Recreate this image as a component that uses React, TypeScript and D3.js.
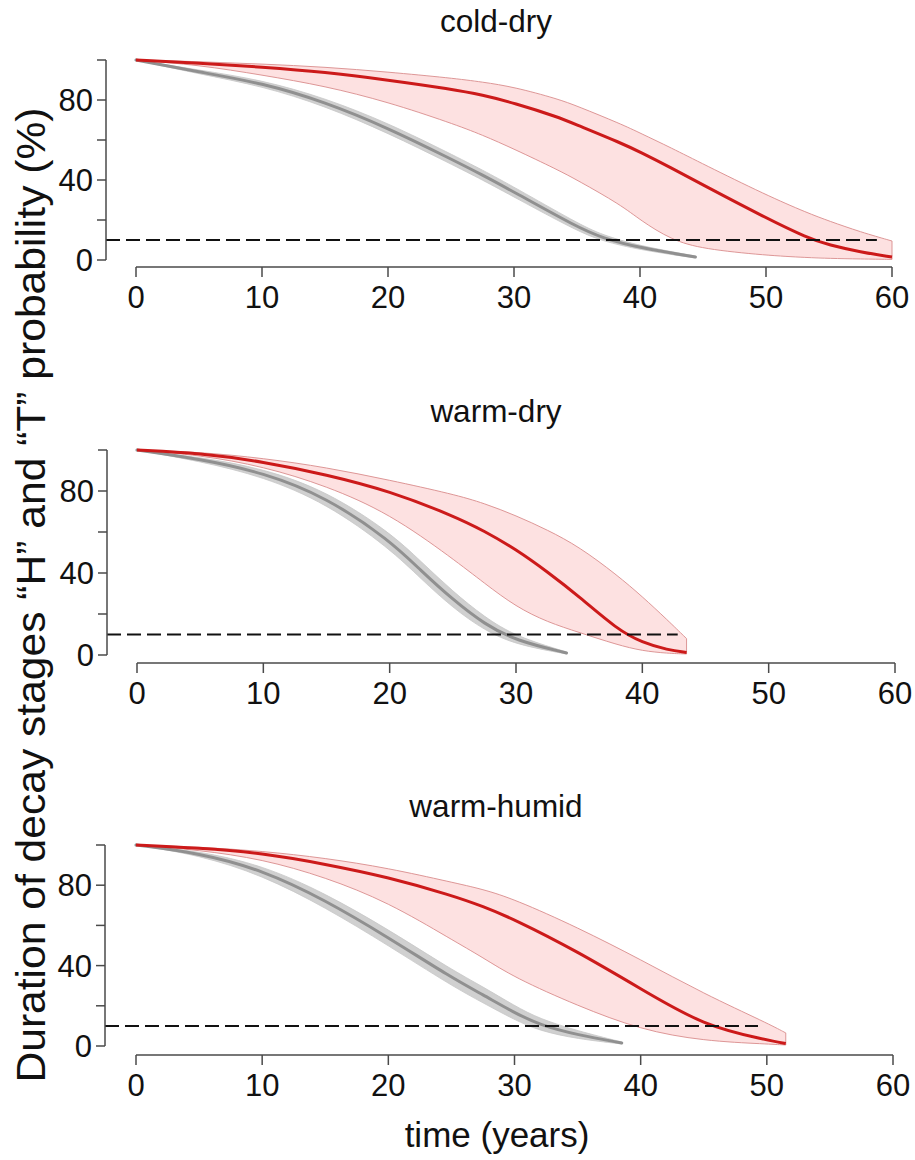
import React from "react";
import * as d3 from "d3";

// ---------- data ----------
const panelTitles = ["cold-dry", "warm-dry", "warm-humid"];
const xTickValues = [0, 10, 20, 30, 40, 50, 60];
const yTickValues = [0, 20, 40, 60, 80, 100];
const yTickLabels = ["0", "", "40", "", "80", ""];
const thresholdValue = 10;
const dashEnds = [58.8, 42.8, 49.3];

// cold-dry
const coldDryRedT = [0, 5, 10, 15, 20, 25, 27.5, 30, 33.5, 35, 38.5, 40, 42.5, 45, 50, 53.3, 55, 57.5, 60];
const coldDryRedMean = [100, 98.5, 96.5, 94, 90, 85.5, 82.5, 78.5, 71.5, 67.5, 58.5, 54, 46, 37.5, 21, 11, 7.5, 4, 1.5];
const coldDryRedUpper = [100, 99.2, 98, 96.5, 94, 91, 89, 86.5, 80.5, 77, 68, 63.5, 56, 48, 32.5, 23.5, 19.5, 14, 9.5];
const coldDryRedLower = [100, 97.5, 92.5, 87, 79, 68.5, 62.5, 55.5, 45, 40, 27.5, 20, 10, 5.5, 2.3, 1.2, 0.8, 0.5, 0.3];
const coldDryGrayT = [0, 5, 10, 15, 20, 25, 27.5, 30, 35, 37, 40, 44.4];
const coldDryGrayMean = [100, 94, 88.5, 79, 66, 50.5, 42.5, 34, 16.5, 11, 6, 1.5];
const coldDryGrayUpper = [100, 95, 90, 81, 68.5, 53, 45, 36.5, 18.5, 12.5, 7, 2];
const coldDryGrayLower = [100, 93, 87, 77, 63.5, 48, 40, 31.5, 14.5, 9.5, 5, 1];

// warm-dry
const warmDryRedT = [0, 5, 10, 15, 20, 25, 27.5, 30, 32.5, 35, 38, 40, 42, 43.5];
const warmDryRedMean = [100, 98.5, 94.3, 88, 80, 68, 60.5, 51.5, 40.5, 28.5, 12.5, 6, 2.5, 1.2];
const warmDryRedUpper = [100, 99, 96, 91.5, 85.3, 78.5, 74, 68, 61, 52.8, 39, 28.5, 17, 8];
const warmDryRedLower = [100, 97.5, 92, 82.5, 69, 47, 35, 23.5, 16, 11, 5, 2, 0.8, 0.5];
const warmDryGrayT = [0, 5, 10, 15, 20, 22.5, 25, 27.5, 30, 34];
const warmDryGrayMean = [100, 95.6, 89, 77, 56, 41, 27, 15, 7, 1];
const warmDryGrayUpper = [100, 96.5, 91, 80, 60, 45.5, 31, 18.5, 9, 1.5];
const warmDryGrayLower = [100, 94.5, 87, 74, 52, 37, 23, 12, 5, 0.5];

// warm-humid
const warmHumidRedT = [0, 5, 10, 15, 20, 25, 27.5, 30, 35, 40, 45, 50, 51.5];
const warmHumidRedMean = [100, 98.5, 96, 90.5, 84, 75, 69.5, 63, 47, 28.5, 10, 3, 1.2];
const warmHumidRedUpper = [100, 99, 97, 93.5, 88.5, 81.5, 78, 73, 59, 43, 26, 11.5, 6.5];
const warmHumidRedLower = [100, 97.5, 93, 84, 71.5, 53, 44, 34, 20, 8, 2.5, 1, 0.5];
const warmHumidGrayT = [0, 5, 10, 15, 20, 25, 27.5, 30, 32, 35, 38.5];
const warmHumidGrayMean = [100, 96, 87.6, 72.6, 54, 34, 25.5, 16.5, 10.5, 5.5, 1.5];
const warmHumidGrayUpper = [100, 97, 90, 76, 58, 38, 29.5, 20, 13.5, 7.5, 2];
const warmHumidGrayLower = [100, 95, 85, 69, 50, 30, 21.5, 13, 7.5, 3.5, 1];

const panelsData = [
  { redT: coldDryRedT, redMean: coldDryRedMean, redUpper: coldDryRedUpper, redLower: coldDryRedLower,
    grayT: coldDryGrayT, grayMean: coldDryGrayMean, grayUpper: coldDryGrayUpper, grayLower: coldDryGrayLower },
  { redT: warmDryRedT, redMean: warmDryRedMean, redUpper: warmDryRedUpper, redLower: warmDryRedLower,
    grayT: warmDryGrayT, grayMean: warmDryGrayMean, grayUpper: warmDryGrayUpper, grayLower: warmDryGrayLower },
  { redT: warmHumidRedT, redMean: warmHumidRedMean, redUpper: warmHumidRedUpper, redLower: warmHumidRedLower,
    grayT: warmHumidGrayT, grayMean: warmHumidGrayMean, grayUpper: warmHumidGrayUpper, grayLower: warmHumidGrayLower },
];

// ---------- layout ----------
const W = 915;
const H = 1160;
const layouts = [
  { x0: 136, x1: 892, yTop: 60, yBot: 260, axisX: 106, axisY: 267, titleY: 32 },
  { x0: 137, x1: 895, yTop: 450, yBot: 655, axisX: 107, axisY: 663, titleY: 422 },
  { x0: 136, x1: 893, yTop: 845, yBot: 1046, axisX: 105, axisY: 1055, titleY: 817 },
];
const FONT = "'Liberation Sans', Arial, Helvetica, sans-serif";
const AXIS = "#4a4a4a";

function Panel({ i }: { i: number }) {
  const L = layouts[i];
  const D = panelsData[i];
  const x = d3.scaleLinear().domain([0, 60]).range([L.x0, L.x1]);
  const y = d3.scaleLinear().domain([0, 100]).range([L.yBot, L.yTop]);
  const curve = d3.curveBasis;

  const band = (t: number[], up: number[], lo: number[]) =>
    d3.area<number>().x((_, k) => x(t[k])).y0((_, k) => y(lo[k])).y1((_, k) => y(up[k])).curve(curve)(t) || "";
  const line = (t: number[], v: number[]) =>
    d3.line<number>().x((_, k) => x(t[k])).y((_, k) => y(v[k])).curve(curve)(t) || "";

  const lastT = D.redT[D.redT.length - 1];
  const lastUp = D.redUpper[D.redUpper.length - 1];
  const lastLo = D.redLower[D.redLower.length - 1];
  const bandStroke = "#d98c8c";

  return (
    <g>
      <text x={496} y={L.titleY} textAnchor="middle" fontSize={31.5} fontFamily={FONT} fill="#111">
        {panelTitles[i]}
      </text>

      {/* red band */}
      <path d={band(D.redT, D.redUpper, D.redLower)} fill="#fde1e1" stroke="none" />
      <path d={line(D.redT, D.redUpper)} fill="none" stroke={bandStroke} strokeWidth={0.9} />
      <path d={line(D.redT, D.redLower)} fill="none" stroke={bandStroke} strokeWidth={0.9} />
      <line x1={x(lastT)} x2={x(lastT)} y1={y(lastUp)} y2={y(lastLo)} stroke={bandStroke} strokeWidth={0.9} />

      {/* gray band */}
      <path d={band(D.grayT, D.grayUpper, D.grayLower)} fill="#d0d0d0" stroke="#c6c6c6" strokeWidth={0.8} />
      <path d={line(D.grayT, D.grayMean)} fill="none" stroke="#909090" strokeWidth={3} strokeLinecap="round" />

      {/* red mean */}
      <path d={line(D.redT, D.redMean)} fill="none" stroke="#cc1a1a" strokeWidth={3} />

      {/* threshold */}
      <line x1={L.axisX} x2={x(dashEnds[i])} y1={y(thresholdValue)} y2={y(thresholdValue)}
        stroke="#111" strokeWidth={2} strokeDasharray="14,6" />

      {/* y axis */}
      <line x1={L.axisX} x2={L.axisX} y1={y(0)} y2={y(100)} stroke={AXIS} strokeWidth={1.5} />
      {yTickValues.map((v, k) => (
        <g key={v}>
          <line x1={L.axisX - 9} x2={L.axisX} y1={y(v)} y2={y(v)} stroke={AXIS} strokeWidth={1.5} />
          {yTickLabels[k] && (
            <text x={L.axisX - 13} y={y(v)} dy="0.36em" textAnchor="end" fontSize={31} fontFamily={FONT} fill="#111">
              {yTickLabels[k]}
            </text>
          )}
        </g>
      ))}

      {/* x axis */}
      <line x1={x(0)} x2={x(60)} y1={L.axisY} y2={L.axisY} stroke={AXIS} strokeWidth={1.5} />
      {xTickValues.map((v) => (
        <g key={v}>
          <line x1={x(v)} x2={x(v)} y1={L.axisY} y2={L.axisY + 10} stroke={AXIS} strokeWidth={1.5} />
          <text x={x(v)} y={L.axisY + 41} textAnchor="middle" fontSize={31} fontFamily={FONT} fill="#111">
            {v}
          </text>
        </g>
      ))}
    </g>
  );
}

export default function App() {
  return (
    <svg width={W} height={H} style={{ display: "block", position: "absolute", left: 0, top: 0, background: "#fff" }}>
      <rect width={W} height={H} fill="#fff" />
      {[0, 1, 2].map((i) => (
        <Panel key={i} i={i} />
      ))}
      <text x={497} y={1147} textAnchor="middle" fontSize={35} fontFamily={FONT} fill="#111">
        time (years)
      </text>
      <text
        transform="translate(45,595) rotate(-90)"
        textAnchor="middle"
        fontSize={41}
        fontFamily={FONT}
        fill="#111"
        textLength={975}
        lengthAdjust="spacingAndGlyphs"
      >
        Duration of decay stages “H” and “T” probability (%)
      </text>
    </svg>
  );
}
